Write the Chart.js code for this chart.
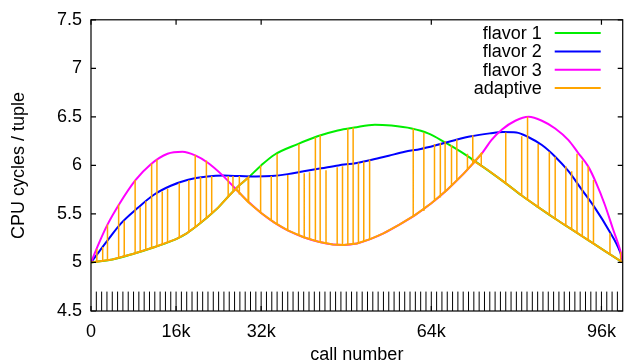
<!DOCTYPE html>
<html>
<head>
<meta charset="utf-8">
<script src="https://cdn.jsdelivr.net/npm/chart.js@4.4.1/dist/chart.umd.min.js"></script>
<style>
  html, body { margin: 0; padding: 0; background: #fff; }
  #wrap { width: 626px; height: 364px; }
</style>
</head>
<body>
<div id="wrap"><canvas id="cpuChart"></canvas></div>
<script>
// x values are in k calls
var xTicks = [0, 16, 32, 64, 96];

var flavor1X = [0, 4, 8, 12, 16, 18, 20, 22, 24, 26, 28, 29.5, 32, 34.5, 38.9, 42.6, 46.4, 49.5, 53.4, 56.5, 60.3, 63.4, 66.5, 69.6, 71.5, 73.6, 77.9, 81, 84.1, 87.3, 90.4, 93.5, 96.6, 100];
var flavor1Y = [5.0, 5.03, 5.09, 5.16, 5.24, 5.30, 5.38, 5.47, 5.57, 5.69, 5.80, 5.87, 6.0, 6.11, 6.22, 6.30, 6.36, 6.39, 6.42, 6.41, 6.38, 6.33, 6.24, 6.14, 6.07, 5.99, 5.82, 5.69, 5.57, 5.45, 5.34, 5.23, 5.12, 5.0];

var flavor2X = [0, 1.5, 3.3, 5.6, 8.75, 11.9, 15, 18.1, 21.9, 25, 28, 31, 34, 37, 40, 43.3, 46.5, 50, 53, 56, 59, 62, 65, 68.4, 71.5, 75, 77.5, 80, 82.3, 84.8, 87.3, 89.8, 92.3, 94.8, 97.3, 99.5, 100];
var flavor2Y = [5.0, 5.11, 5.24, 5.40, 5.56, 5.70, 5.79, 5.85, 5.885, 5.895, 5.89, 5.885, 5.89, 5.91, 5.94, 5.97, 6.0, 6.025, 6.06, 6.10, 6.14, 6.17, 6.21, 6.26, 6.30, 6.33, 6.345, 6.34, 6.29, 6.21, 6.09, 5.94, 5.75, 5.56, 5.34, 5.11, 5.02];

var flavor3X = [0, 1.5, 3.1, 5.3, 8.4, 11.2, 14.4, 17.2, 19.7, 21.9, 24.5, 27, 29.5, 32, 34.5, 37, 40, 43, 45.5, 47.5, 50, 52.5, 55, 58, 61, 64, 67, 70, 72, 73.6, 75.3, 77.3, 79.8, 82.3, 84.8, 87.3, 89.8, 91.6, 93.5, 95, 96.6, 98.2, 99.5, 100];
var flavor3Y = [5.0, 5.2, 5.39, 5.6, 5.85, 6.01, 6.12, 6.14, 6.1, 6.03, 5.91, 5.77, 5.63, 5.51, 5.41, 5.33, 5.26, 5.21, 5.185, 5.18, 5.195, 5.24, 5.30, 5.39, 5.49, 5.61, 5.75, 5.91, 6.03, 6.13, 6.26, 6.37, 6.46, 6.5, 6.46, 6.38, 6.26, 6.13, 5.99, 5.82, 5.6, 5.34, 5.13, 5.02];

// adaptive: lower path, pieces split by null
var adaptiveX = [0, 4, 8, 12, 16, 18, 20, 22, 24, 26, 28, 29.6, 29.6, 32, 34.5, 37, 40, 43, 45.5, 47.5, 50, 52.5, 55, 58, 61, 64, 67, 70, 72, 73.6, 73.6, 71.6, 74.7, 77.9, 81, 84.1, 87.3, 90.4, 93.5, 96.6, 100, 100, 27.2, 29.6];
var adaptiveY = [5.0, 5.03, 5.09, 5.16, 5.24, 5.30, 5.38, 5.47, 5.57, 5.69, 5.80, 5.875, 5.62, 5.51, 5.41, 5.33, 5.26, 5.21, 5.185, 5.18, 5.195, 5.24, 5.30, 5.39, 5.49, 5.61, 5.75, 5.91, 6.03, 6.13, null, 6.06, 5.95, 5.82, 5.69, 5.57, 5.45, 5.34, 5.23, 5.12, 5.0, null, 5.76, 5.62];

// adaptive probes: vertical strokes
var spikeX = [1.1, 2.2, 3.1, 5.2, 6.25, 8.3, 9.25, 10.3, 11.4, 12.4, 13.4, 14.4, 16.6, 18.4, 19.6, 20.6, 21.7, 22.7, 25.8, 26.7, 27.9, 31.9, 33.9, 35.0, 37.0, 39.1, 40.1, 41.1, 42.2, 43.1, 44.2, 46.3, 47.3, 48.3, 49.3, 50.3, 51.3, 52.4, 60.6, 62.6, 64.6, 65.7, 66.6, 67.8, 68.8, 70.8, 71.8, 73.4, 78.0, 81.0, 82.1, 84.1, 86.2, 87.3, 89.3, 90.4, 91.4, 92.4, 93.5, 94.5, 97.6, 99.6];
var spikeBase = [5.01, 5.02, 5.03, 5.05, 5.06, 5.10, 5.11, 5.13, 5.15, 5.17, 5.18, 5.20, 5.26, 5.32, 5.36, 5.41, 5.46, 5.50, 5.68, 5.74, 5.70, 5.51, 5.43, 5.39, 5.33, 5.28, 5.26, 5.24, 5.22, 5.21, 5.20, 5.185, 5.18, 5.18, 5.185, 5.20, 5.21, 5.24, 5.47, 5.53, 5.63, 5.67, 5.72, 5.79, 5.84, 5.96, 6.02, 5.99, 5.82, 5.69, 5.64, 5.57, 5.49, 5.45, 5.38, 5.34, 5.31, 5.27, 5.23, 5.20, 5.09, 5.02];
var spikeTop = [5.14, 5.16, 5.39, 5.60, 5.43, 5.85, 5.57, 5.63, 6.02, 6.06, 5.73, 5.76, 5.82, 5.85, 6.11, 5.88, 6.05, 5.89, 5.89, 5.89, 5.89, 6.0, 5.89, 6.12, 5.90, 6.22, 5.92, 5.93, 6.29, 6.31, 5.95, 5.98, 5.99, 6.38, 6.39, 6.03, 6.04, 6.06, 6.38, 6.34, 6.22, 6.23, 6.25, 6.21, 6.27, 6.12, 6.31, 6.13, 6.34, 6.30, 6.50, 6.22, 6.14, 6.09, 5.99, 5.94, 6.12, 6.05, 5.99, 5.85, 5.30, 5.11];

// rug of calls along the bottom
var rugX = [1, 2, 3, 4, 5, 6, 7, 8, 9, 10, 11, 12, 13, 14, 15, 16, 17, 18, 19, 20, 21, 22, 23, 24, 25, 26, 27, 28, 29, 30, 31, 32, 33, 34, 35, 36, 37, 38, 39, 40, 41, 42, 43, 44, 45, 46, 47, 48, 49, 50, 51, 52, 53, 54, 55, 56, 57, 58, 59, 60, 61, 62, 63, 64, 65, 66, 67, 68, 69, 70, 71, 72, 73, 74, 75, 76, 77, 78, 79, 80, 81, 82, 83, 84, 85, 86, 87, 88, 89, 90, 91, 92, 93, 94, 95, 96, 97, 98, 99];
var rugLow = 4.5;
var rugHigh = 4.7;

var FONT = "'Liberation Sans', Arial, Helvetica, sans-serif";

function pts(xs, ys) {
    return xs.map(function (x, i) { return { x: x, y: ys[i] }; });
}

function strokes(xs, lo, hi) {
    var out = [];
    xs.forEach(function (x, i) {
        var a = Array.isArray(lo) ? lo[i] : lo;
        var b = Array.isArray(hi) ? hi[i] : hi;
        out.push({ x: x, y: a }, { x: x, y: b }, { x: x, y: null });
    });
    return out;
}

// gnuplot style frame, inner ticks and legend
var framePlugin = {
    id: 'frame',
    afterDatasetsDraw: function (chart) {
        var ctx = chart.ctx, a = chart.chartArea;
        var xs = chart.scales.x, ys = chart.scales.y;
        ctx.save();
        ctx.strokeStyle = '#000';
        ctx.lineWidth = 1.2;
        ctx.strokeRect(a.left, a.top, a.right - a.left, a.bottom - a.top);
        ctx.beginPath();
        xs.ticks.forEach(function (t) {
            var px = xs.getPixelForValue(t.value);
            ctx.moveTo(px, a.bottom); ctx.lineTo(px, a.bottom - 5);
            ctx.moveTo(px, a.top); ctx.lineTo(px, a.top + 5);
        });
        ys.ticks.forEach(function (t) {
            var py = ys.getPixelForValue(t.value);
            ctx.moveTo(a.left, py); ctx.lineTo(a.left + 5, py);
            ctx.moveTo(a.right, py); ctx.lineTo(a.right - 5, py);
        });
        ctx.stroke();

        var items = chart.data.datasets.filter(function (d) { return d.label; });
        ctx.font = '18px ' + FONT;
        ctx.textAlign = 'right';
        ctx.textBaseline = 'middle';
        items.forEach(function (d, i) {
            var y = a.top + 13.3 + i * 18.3;
            ctx.fillStyle = '#000';
            ctx.fillText(d.label, a.right - 81, y + 1);
            ctx.strokeStyle = d.borderColor;
            ctx.lineWidth = 2;
            ctx.beginPath();
            ctx.moveTo(a.right - 68, y);
            ctx.lineTo(a.right - 22, y);
            ctx.stroke();
        });
        ctx.restore();
    }
};

var ctx = document.getElementById('cpuChart').getContext('2d');

var chart = new Chart(ctx, {
    type: 'line',
    data: {
        datasets: [{
            label: 'flavor 1',
            data: pts(flavor1X, flavor1Y),
            borderColor: '#00ee00',
            borderWidth: 2,
            cubicInterpolationMode: 'monotone',
            order: 5
        },
        {
            label: 'flavor 2',
            data: pts(flavor2X, flavor2Y),
            borderColor: '#0000ff',
            borderWidth: 2,
            cubicInterpolationMode: 'monotone',
            order: 4
        },
        {
            label: 'flavor 3',
            data: pts(flavor3X, flavor3Y),
            borderColor: '#ff00ff',
            borderWidth: 2,
            cubicInterpolationMode: 'monotone',
            order: 3
        },
        {
            label: 'adaptive',
            data: pts(adaptiveX, adaptiveY),
            borderColor: '#ffa500',
            borderWidth: 2,
            tension: 0,
            order: 2
        },
        {
            label: '',
            data: strokes(spikeX, spikeBase, spikeTop),
            borderColor: '#ffa500',
            borderWidth: 1.5,
            tension: 0,
            order: 1
        },
        {
            label: '',
            data: strokes(rugX, rugLow, rugHigh),
            borderColor: '#000000',
            borderWidth: 1,
            tension: 0,
            order: 0
        }]
    },
    options: {
        responsive: true,
        maintainAspectRatio: false,
        animation: false,
        devicePixelRatio: 1,
        spanGaps: false,
        elements: { point: { radius: 0, hoverRadius: 0 } },
        layout: { padding: { top: 16, right: 1, left: 0, bottom: 0 } },
        plugins: {
            legend: { display: false },
            tooltip: { enabled: false }
        },
        scales: {
            x: {
                type: 'linear',
                min: 0,
                max: 100,
                afterFit: function (s) { s.height = 53; },
                afterBuildTicks: function (s) {
                    s.ticks = xTicks.map(function (v) { return { value: v }; });
                },
                grid: { display: false, drawTicks: false },
                border: { display: false },
                ticks: {
                    padding: 10,
                    color: '#000',
                    font: { family: FONT, size: 18 },
                    maxRotation: 0,
                    autoSkip: false,
                    callback: function (v) { return v === 0 ? '0' : v + 'k'; }
                },
                title: {
                    display: true,
                    text: 'call number',
                    color: '#000',
                    font: { family: FONT, size: 18, lineHeight: 1 },
                    padding: { top: 0, bottom: 0 }
                }
            },
            y: {
                min: 4.5,
                max: 7.5,
                afterFit: function (s) { s.width = 91; },
                grid: { display: false, drawTicks: false },
                border: { display: false },
                ticks: {
                    stepSize: 0.5,
                    padding: 9,
                    color: '#000',
                    font: { family: FONT, size: 18 },
                    callback: function (v) { return String(Math.round(v * 10) / 10); }
                },
                title: {
                    display: true,
                    text: 'CPU cycles / tuple',
                    color: '#000',
                    font: { family: FONT, size: 18, lineHeight: 1 },
                    padding: { top: 10, bottom: 0 }
                }
            }
        }
    },
    plugins: [framePlugin]
});
</script>
</body>
</html>
